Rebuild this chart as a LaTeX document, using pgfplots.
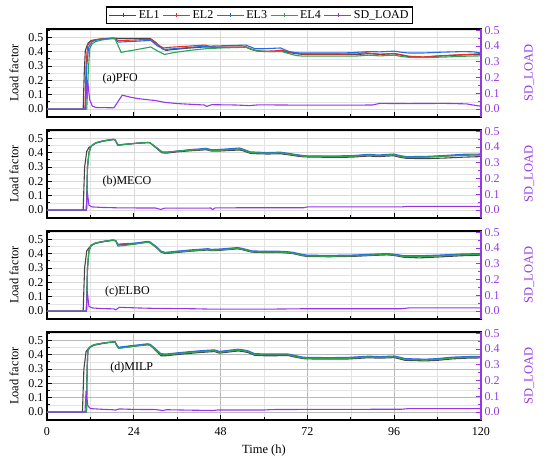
\documentclass[border=0pt]{standalone}
\usepackage{fontspec}
\setmainfont{Liberation Serif}
\usepackage{pgfplots}
\pgfplotsset{compat=1.18}
\definecolor{cA}{RGB}{70,70,70}
\definecolor{cB}{RGB}{235,45,45}
\definecolor{cC}{RGB}{35,110,230}
\definecolor{cD}{RGB}{40,165,80}
\definecolor{cS}{RGB}{150,55,230}
\newcommand{\fs}{\fontsize{12}{14}\selectfont}
\newcommand{\fl}{\fontsize{12.5}{14}\selectfont}
\pgfplotsset{
  /pgf/number format/assume math mode=true,
  base/.style={width=434pt,height=88pt,scale only axis,xmin=0,xmax=120,tick align=inside,
     major tick length=5pt,minor tick length=3pt,tick label style={font=\fs},label style={font=\fl}},
  leftax/.style={base,ymin=-0.055,ymax=0.557,
     xtick={0,24,48,72,96,120},minor xtick={12,36,60,84,108},
     ytick={0,0.1,0.2,0.3,0.4,0.5},minor ytick={-0.05,0.05,0.15,0.25,0.35,0.45,0.55},
     xtick pos=bottom,ytick pos=left,
     grid=both,major grid style={gray!30,line width=0.5pt},minor grid style={gray!22,line width=0.5pt},
     axis line style={line width=1.1pt},
     tick style={black,line width=0.9pt},
     yticklabel style={/pgf/number format/fixed,/pgf/number format/fixed zerofill,/pgf/number format/precision=1},
     ylabel={Load factor},ylabel shift=3pt,xticklabel shift=4pt,xlabel shift=2pt},
  rightax/.style={base,ymin=-0.0502,ymax=0.508,axis y line*=right,axis x line=none,
     ytick={0,0.1,0.2,0.3,0.4,0.5},minor ytick={0.05,0.15,0.25,0.35,0.45},
     y axis line style={cS,line width=1.1pt},tick style={cS,line width=0.9pt},
     yticklabel style={text=cS,/pgf/number format/fixed,/pgf/number format/fixed zerofill,/pgf/number format/precision=1},
     ylabel={SD\_LOAD},ylabel style={text=cS},ylabel shift=18pt},
  lA/.style={cA,line width=1.1pt},
  lB/.style={cB,line width=1.1pt},
  lC/.style={cC,line width=1.1pt},
  lD/.style={cD,line width=1.1pt},
  lS/.style={cS,line width=1.1pt},
}
\begin{document}
\begin{tikzpicture}
\useasboundingbox (0,0) rectangle (550pt,459pt);
% ---------------- Panel 1 ----------------
\begin{axis}[leftax,at={(47pt,342pt)},anchor=south west,xticklabels={},
  legend style={at={(0.49,1)},anchor=south,yshift=5pt,draw=black,line width=1.2pt,font=\fs,
     legend columns=5,inner xsep=2pt,inner ysep=1.5pt,/tikz/every even column/.append style={column sep=1pt}},
  legend image code/.code={\draw[#1,mark=none] (0pt,0pt) -- (27pt,0pt);
     \draw[#1,mark=+,mark size=2pt,mark options={line width=0.6pt}] plot coordinates {(13.5pt,0pt)};}]
\addplot[lA] coordinates {(0,0) (10,0) (10.3,0.25) (10.6,0.41) (11.4,0.46) (12.3,0.478) (14,0.485) (15.8,0.49) (18.5,0.494) (20,0.491) (24,0.491) (28.5,0.492) (30,0.465) (31.8,0.42) (33,0.408) (34,0.412) (38,0.422) (43.5,0.432) (46,0.432) (48,0.43) (52,0.43) (55,0.432) (56.5,0.415) (58,0.405) (60,0.40) (63,0.40) (65,0.405) (66.5,0.395) (69,0.385) (71,0.38) (80,0.38) (86,0.38) (89,0.386) (92,0.38) (96,0.385) (98,0.375) (100,0.365) (104,0.36) (108,0.368) (114,0.376) (120,0.38)};
\addlegendentry{EL1}
\addplot[lB] coordinates {(0,0) (10.5,0) (10.8,0.3) (11.2,0.44) (12,0.47) (14,0.485) (16,0.489) (18.5,0.494) (19.7,0.477) (24,0.48) (28.7,0.486) (30.5,0.45) (32.2,0.425) (34,0.43) (38,0.436) (43.5,0.445) (44.5,0.44) (45.5,0.43) (48,0.43) (52,0.43) (55,0.432) (56.5,0.416) (58,0.405) (60,0.402) (63,0.405) (65,0.41) (66.5,0.398) (69,0.388) (71,0.383) (80,0.383) (86,0.384) (88,0.392) (92,0.382) (96,0.387) (98,0.378) (100,0.368) (104,0.363) (108,0.37) (114,0.378) (120,0.385)};
\addlegendentry{EL2}
\addplot[lC] coordinates {(0,0) (10.7,0) (11,0.3) (11.5,0.43) (12.5,0.47) (14,0.482) (16,0.488) (18.5,0.494) (19.7,0.466) (24,0.471) (28.7,0.478) (30.5,0.44) (32.5,0.415) (35,0.42) (40,0.43) (43.5,0.437) (48,0.44) (52,0.443) (55,0.445) (56.5,0.43) (57.5,0.42) (60,0.42) (64.6,0.425) (65.5,0.415) (67,0.40) (69,0.392) (71,0.39) (80,0.39) (84,0.392) (89,0.40) (92,0.398) (96,0.403) (98,0.395) (100,0.39) (104,0.39) (108,0.395) (115,0.40) (118,0.398) (120,0.39)};
\addlegendentry{EL3}
\addplot[lD] coordinates {(0,0) (11,0) (11.4,0.25) (11.8,0.42) (12.5,0.455) (13.5,0.47) (15,0.48) (17,0.487) (18.8,0.49) (19.5,0.45) (20.5,0.394) (22,0.402) (24,0.41) (28.7,0.432) (30.5,0.405) (32.5,0.38) (35,0.393) (40,0.41) (44,0.42) (48,0.425) (52,0.428) (55,0.43) (56.5,0.418) (58,0.405) (62,0.40) (65,0.40) (67,0.385) (69,0.372) (71,0.368) (80,0.368) (85,0.368) (89,0.375) (92,0.37) (96,0.375) (98,0.366) (100,0.36) (104,0.358) (110,0.362) (116,0.368) (120,0.37)};
\addlegendentry{EL4}
\addlegendimage{lS}
\addlegendentry{SD\_LOAD}
\node[anchor=west,font=\fs,inner sep=0pt] at (axis cs:15.3,0.21) {(a)PFO};
\end{axis}
\begin{axis}[rightax,at={(47pt,342pt)},anchor=south west]
\addplot[lS] coordinates {(0,0) (10.5,0) (11.2,0.185) (11.8,0.06) (12.5,0.02) (13.5,0.01) (18.5,0.008) (20.8,0.088) (23,0.076) (25,0.067) (28,0.059) (30,0.054) (32.5,0.043) (36,0.035) (40,0.03) (43.5,0.026) (44.2,0.017) (45.5,0.028) (52,0.026) (56,0.022) (58.5,0.027) (70,0.025) (85,0.025) (90,0.026) (92,0.036) (100,0.035) (110,0.036) (116,0.033) (118,0.025) (120,0.018)};
\end{axis}
% ---------------- Panel 2 ----------------
\begin{axis}[leftax,at={(47pt,241pt)},anchor=south west,xticklabels={}]
\addplot[lA] coordinates {(0,0) (10,0) (10.4,0.3) (11,0.41) (11.6,0.435) (12.2,0.445) (13.5,0.466) (15.7,0.48) (18.3,0.49) (18.8,0.488) (19.6,0.452) (21,0.456) (24.4,0.464) (27.9,0.47) (28.5,0.468) (30.5,0.425) (31.8,0.398) (33,0.396) (36,0.405) (40,0.413) (42,0.416) (44,0.42) (45.5,0.41) (47,0.41) (50,0.414) (53.2,0.418) (54,0.414) (56.2,0.395) (58,0.392) (61,0.39) (64.5,0.392) (66.7,0.385) (69,0.376) (71,0.37) (78,0.367) (84,0.368) (89,0.376) (91.5,0.372) (95.8,0.378) (97.5,0.368) (99.4,0.36) (104.6,0.358) (110,0.362) (115,0.368) (120,0.372)};
\addplot[lB] coordinates {(0,0) (10.9,0) (11.2,0.30) (11.6,0.40) (12.2,0.445) (13.5,0.468) (15.7,0.482) (18.3,0.492) (18.8,0.49) (19.6,0.452) (21,0.456) (24.4,0.464) (27.9,0.47) (28.5,0.468) (30.5,0.43) (31.8,0.404) (33,0.402) (36,0.41) (40,0.418) (42,0.42) (44,0.425) (45.5,0.415) (47,0.416) (50,0.42) (53.2,0.425) (54,0.42) (56.2,0.40) (58,0.398) (61,0.395) (64.5,0.398) (66.7,0.39) (69,0.382) (71,0.375) (72,0.373) (78,0.372) (84,0.373) (89,0.383) (91.5,0.378) (95.8,0.385) (97.5,0.375) (99.4,0.367) (104.6,0.368) (110,0.375) (115,0.383) (120,0.385)};
\addplot[lC] coordinates {(0,0) (10.9,0) (11.2,0.30) (11.6,0.40) (12.2,0.445) (13.5,0.468) (15.7,0.482) (18.3,0.492) (18.8,0.49) (19.6,0.452) (21,0.456) (24.4,0.464) (27.9,0.47) (28.5,0.468) (30.5,0.43) (31.8,0.404) (33,0.402) (36,0.41) (40,0.422) (42,0.425) (44,0.43) (45.5,0.42) (47,0.421) (50,0.426) (53.2,0.432) (54,0.426) (56.2,0.405) (58,0.403) (61,0.4) (64.5,0.403) (66.7,0.395) (69,0.386) (71,0.379) (72,0.377) (78,0.377) (84,0.378) (89,0.388) (91.5,0.383) (95.8,0.39) (97.5,0.38) (99.4,0.372) (104.6,0.373) (110,0.38) (115,0.388) (120,0.39)};
\addplot[lD] coordinates {(0,0) (10.9,0) (11.2,0.30) (11.6,0.40) (12.2,0.445) (13.5,0.468) (15.7,0.482) (18.3,0.492) (18.8,0.49) (19.6,0.452) (21,0.456) (24.4,0.464) (27.9,0.47) (28.5,0.468) (30.5,0.43) (31.8,0.404) (33,0.402) (36,0.41) (40,0.418) (42,0.42) (44,0.425) (45.5,0.415) (47,0.416) (50,0.42) (53.2,0.425) (54,0.42) (56.2,0.40) (58,0.398) (61,0.395) (64.5,0.398) (66.7,0.39) (69,0.382) (71,0.375) (72,0.373) (78,0.372) (84,0.373) (89,0.383) (91.5,0.378) (95.8,0.385) (97.5,0.375) (99.4,0.367) (104.6,0.368) (110,0.375) (115,0.381) (120,0.383)};
\node[anchor=west,font=\fs,inner sep=0pt] at (axis cs:15.3,0.2) {(b)MECO};
\end{axis}
\begin{axis}[rightax,at={(47pt,241pt)},anchor=south west]
\addplot[lS] coordinates {(0,0) (10.9,0) (11.1,0.125) (11.6,0.03) (12.5,0.02) (15,0.017) (20,0.014) (30,0.013) (31.5,0.004) (32.5,0.012) (40,0.012) (45.3,0.013) (45.8,0.003) (46.5,0.014) (58,0.015) (71,0.015) (72,0.02) (98,0.02) (100,0.024) (120,0.024)};
\end{axis}
% ---------------- Panel 3 ----------------
\begin{axis}[leftax,at={(47pt,140pt)},anchor=south west,xticklabels={}]
\addplot[lA] coordinates {(0,0) (10,0) (10.4,0.3) (11,0.42) (11.6,0.44) (12.2,0.455) (13.5,0.472) (15.7,0.483) (18.3,0.492) (19,0.488) (19.6,0.46) (21,0.463) (24.4,0.468) (27.9,0.48) (28.5,0.476) (30.5,0.436) (31.5,0.41) (32.7,0.4) (36,0.408) (40,0.417) (44.5,0.425) (45.5,0.42) (48,0.423) (52.7,0.433) (54,0.427) (56.7,0.41) (60,0.407) (63.6,0.408) (66,0.405) (68,0.4) (70.6,0.385) (72,0.38) (78,0.378) (85,0.381) (90,0.387) (94,0.391) (96,0.387) (98.5,0.375) (103,0.37) (108,0.376) (114.6,0.385) (120,0.388)};
\addplot[lB] coordinates {(0,0) (10.9,0) (11.2,0.3) (11.6,0.42) (12.2,0.458) (13.5,0.474) (15.7,0.485) (18.3,0.494) (19,0.49) (19.6,0.462) (21,0.465) (24.4,0.47) (27.9,0.482) (28.5,0.478) (30.5,0.44) (31.5,0.415) (32.7,0.405) (36,0.413) (40,0.422) (44.5,0.43) (45.5,0.425) (48,0.428) (52.7,0.438) (54,0.432) (56.7,0.415) (60,0.412) (63.6,0.413) (66,0.41) (68,0.405) (70.6,0.39) (72,0.385) (78,0.383) (85,0.386) (90,0.392) (94,0.396) (96,0.392) (98.5,0.382) (103,0.381) (108,0.385) (114.6,0.393) (120,0.396)};
\addplot[lC] coordinates {(0,0) (10.9,0) (11.2,0.3) (11.6,0.42) (12.2,0.458) (13.5,0.474) (15.7,0.485) (18.3,0.494) (19,0.49) (19.6,0.465) (21,0.468) (24.4,0.473) (27.9,0.485) (28.5,0.481) (30.5,0.443) (31.5,0.418) (32.7,0.408) (36,0.417) (40,0.426) (44.5,0.434) (45.5,0.429) (48,0.432) (52.7,0.442) (54,0.436) (56.7,0.419) (60,0.416) (63.6,0.417) (66,0.414) (68,0.409) (70.6,0.394) (72,0.389) (78,0.387) (85,0.39) (90,0.396) (94,0.4) (96,0.396) (98.5,0.386) (103,0.385) (108,0.389) (114.6,0.397) (120,0.4)};
\addplot[lD] coordinates {(0,0) (10.9,0) (11.2,0.3) (11.6,0.42) (12.2,0.458) (13.5,0.474) (15.7,0.485) (18.3,0.494) (19,0.488) (19.6,0.452) (21,0.455) (24.4,0.466) (27.9,0.48) (28.5,0.476) (30.5,0.438) (31.5,0.413) (32.7,0.403) (36,0.411) (40,0.42) (44.5,0.428) (45.5,0.423) (48,0.426) (52.7,0.436) (54,0.43) (56.7,0.413) (60,0.41) (63.6,0.411) (66,0.408) (68,0.403) (70.6,0.388) (72,0.383) (78,0.381) (85,0.384) (90,0.39) (94,0.394) (96,0.39) (98.5,0.38) (103,0.379) (108,0.383) (114.6,0.391) (120,0.394)};
\node[anchor=west,font=\fs,inner sep=0pt] at (axis cs:16,0.135) {(c)ELBO};
\end{axis}
\begin{axis}[rightax,at={(47pt,140pt)},anchor=south west]
\addplot[lS] coordinates {(0,0) (10.9,0) (11.1,0.13) (11.6,0.03) (12.5,0.02) (15,0.016) (18.5,0.014) (19,0.008) (20,0.024) (25,0.02) (30,0.017) (40,0.015) (46,0.012) (60,0.012) (72,0.015) (90,0.015) (98,0.015) (100,0.02) (120,0.02)};
\end{axis}
% ---------------- Panel 4 ----------------
\begin{axis}[leftax,at={(47pt,39pt)},anchor=south west,xlabel={Time (h)},major grid style={gray!55,line width=0.6pt}]
\addplot[lA] coordinates {(0,0) (9.8,0) (10.2,0.3) (10.8,0.42) (11.5,0.445) (12,0.452) (13,0.465) (15,0.475) (16.7,0.482) (18.8,0.487) (19.4,0.46) (19.8,0.446) (21,0.448) (24,0.458) (27.8,0.468) (28.5,0.465) (29.6,0.44) (31.5,0.392) (33,0.392) (36,0.4) (38.9,0.407) (42,0.414) (46.3,0.421) (47.7,0.41) (50,0.417) (52.8,0.425) (54,0.422) (55.6,0.414) (57.4,0.395) (60,0.392) (63,0.392) (66.7,0.393) (68.5,0.383) (70.8,0.372) (72,0.37) (78,0.368) (83,0.369) (89,0.378) (92,0.375) (96,0.379) (97.5,0.37) (99,0.36) (104.6,0.356) (108,0.36) (112,0.37) (116,0.375) (120,0.377)};
\addplot[lB] coordinates {(0,0) (10.9,0) (11.1,0.3) (11.3,0.43) (12,0.455) (13,0.468) (15,0.478) (16.7,0.484) (18.8,0.489) (19.4,0.46) (19.8,0.446) (21,0.45) (24,0.46) (27.8,0.471) (28.5,0.468) (29.6,0.445) (31.5,0.402) (33,0.4) (36,0.408) (38.9,0.415) (42,0.422) (46.3,0.429) (47.7,0.418) (50,0.425) (52.8,0.433) (54,0.43) (55.6,0.422) (57.4,0.403) (60,0.40) (63,0.40) (66.7,0.40) (68.5,0.39) (70.8,0.378) (72,0.376) (78,0.375) (83,0.376) (89,0.385) (92,0.382) (96,0.386) (97.5,0.378) (99,0.368) (104.6,0.364) (108,0.368) (112,0.378) (116,0.382) (120,0.384)};
\addplot[lC] coordinates {(0,0) (10.9,0) (11.1,0.3) (11.3,0.43) (12,0.455) (13,0.468) (15,0.478) (16.7,0.484) (18.8,0.489) (19.4,0.462) (19.8,0.451) (21,0.455) (24,0.464) (27.8,0.475) (28.5,0.472) (29.6,0.449) (31.5,0.406) (33,0.404) (36,0.412) (38.9,0.419) (42,0.426) (46.3,0.433) (47.7,0.422) (50,0.429) (52.8,0.437) (54,0.434) (55.6,0.426) (57.4,0.407) (60,0.404) (63,0.404) (66.7,0.404) (68.5,0.394) (70.8,0.382) (72,0.38) (78,0.379) (83,0.38) (89,0.389) (92,0.386) (96,0.39) (97.5,0.382) (99,0.372) (104.6,0.368) (108,0.372) (112,0.382) (116,0.386) (120,0.388)};
\addplot[lD] coordinates {(0,0) (10.9,0) (11.1,0.3) (11.3,0.43) (12,0.455) (13,0.468) (15,0.478) (16.7,0.484) (18.8,0.489) (19.4,0.458) (19.8,0.444) (21,0.448) (24,0.458) (27.8,0.469) (28.5,0.466) (29.6,0.443) (31.5,0.4) (33,0.398) (36,0.406) (38.9,0.413) (42,0.42) (46.3,0.427) (47.7,0.416) (50,0.423) (52.8,0.431) (54,0.428) (55.6,0.42) (57.4,0.401) (60,0.398) (63,0.398) (66.7,0.398) (68.5,0.388) (70.8,0.376) (72,0.374) (78,0.373) (83,0.374) (89,0.383) (92,0.38) (96,0.384) (97.5,0.376) (99,0.366) (104.6,0.362) (108,0.366) (112,0.376) (116,0.38) (120,0.382)};
\node[anchor=west,font=\fs,inner sep=0pt] at (axis cs:17.5,0.31) {(d)MILP};
\end{axis}
\begin{axis}[rightax,at={(47pt,39pt)},anchor=south west]
\addplot[lS] coordinates {(0,0) (10.5,0) (10.8,0.135) (11.3,0.04) (12,0.022) (15,0.018) (18,0.015) (19,0.013) (20,0.02) (24,0.017) (30,0.016) (32,0.01) (33,0.015) (40,0.012) (46,0.01) (47,0.013) (60,0.013) (62,0.016) (72,0.017) (98,0.018) (100,0.022) (120,0.022)};
\end{axis}
\end{tikzpicture}
\end{document}
